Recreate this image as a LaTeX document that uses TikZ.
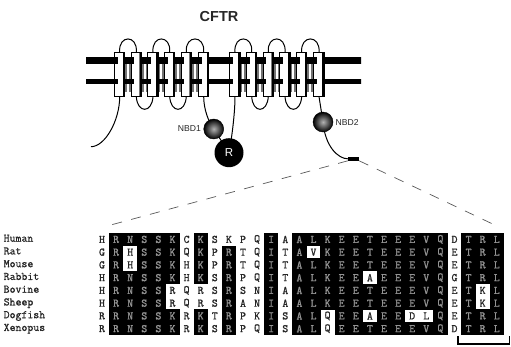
\documentclass[tikz,border=0pt]{standalone}
\usepackage{fontspec}
\setmainfont{Liberation Sans}
\newfontfamily\seqfont[FakeBold=1.2]{Latin Modern Mono}
\newfontfamily\namefont[FakeBold=0.8]{Latin Modern Mono}
\pgfdeclareverticalshading{bilayer}{100bp}{
  color(25bp)=(black!70); color(28bp)=(black!85); color(32bp)=(black!90);
  color(40bp)=(black!45); color(47bp)=(white); color(53bp)=(white);
  color(61bp)=(black!55); color(68bp)=(black); color(75bp)=(black)}
\pgfdeclarehorizontalshading{tube}{100bp}{
  color(25bp)=(black!65); color(34bp)=(black!45); color(44bp)=(black!8);
  color(50bp)=(white); color(56bp)=(black!8); color(66bp)=(black!45); color(75bp)=(black!65)}
\tikzset{
  helix/.style={draw=black,line width=1pt,minimum width=10.5pt,minimum height=43.5pt,
    inner sep=0pt,shading=tube},
  strand/.style={line width=1pt,black},
  nbdball/.style={circle,draw=black,line width=0.4pt,minimum size=20pt,inner sep=0pt,
    shading=radial,inner color=black!30,outer color=black},
  rball/.style={circle,fill=black,minimum size=29pt,inner sep=0pt,text=white,font=\fontsize{11.5}{11.5}\selectfont},
  domlabel/.style={inner sep=0pt,font=\fontsize{8.6}{10}\selectfont,text=black!85},
  guide/.style={line width=0.7pt,black!65,dash pattern=on 10pt off 9.5pt},
  resb/.style={fill=black,minimum width=14.4pt,minimum height=13pt,inner sep=0pt,text=black!42,
    font=\seqfont\fontsize{11.5}{11.5}\selectfont},
  resw/.style={minimum width=14.1pt,minimum height=12.75pt,inner sep=0pt,text=black!85,
    font=\seqfont\fontsize{11.5}{11.5}\selectfont},
  species/.style={anchor=west,inner sep=0pt,text=black!85,font=\namefont\fontsize{11.5}{11.5}\selectfont},
}
\begin{document}
\begin{tikzpicture}[x=1pt,y=-1pt]
\useasboundingbox (0,0) rectangle (511,346);

\node[font=\bfseries\fontsize{14.5}{15}\selectfont,text=black!85,inner sep=0pt] (title) at (219,17) {CFTR};

% lipid bilayer
\shade[shading=bilayer] (86,57) rectangle (361,92);
\foreach \xa/\xb in {125/131,142/148,158/164,175/181,192/198,
                     240/246,257/263,274/280,290/296,307/313}{
  \fill[black,opacity=0.55] (\xa,57) rectangle (\xa+1.7,92);
  \fill[black,opacity=0.55] (\xb-1.7,57) rectangle (\xb,92);
}

% transmembrane helices
\foreach \n/\x in {1/119.7,2/136.3,3/153,4/169.7,5/186.3,6/203.7,
                   7/235,8/251.7,9/268.3,10/285,11/301.7,12/319}{
  \node[helix] (h\n) at (\x,74.3) {};
}

% extracellular and cytoplasmic loops
\foreach \a/\b in {1/2,3/4,5/6,7/8,9/10,11/12}{
  \draw[strand] (h\a.north) .. controls +(-1.5,-17.5) and +(1.5,-17.5) .. (h\b.north);
}
\foreach \a/\b in {2/3,4/5,8/9,10/11}{
  \draw[strand] (h\a.south) .. controls +(1,17) and +(-1,17) .. (h\b.south);
}

% cytoplasmic domains
\coordinate (nterm) at (91,146.7);
\node[fill=black,minimum width=11pt,minimum height=3.6pt,inner sep=0pt] (pdz) at (353.5,158.8) {};
\coordinate (nbdonec) at (213.7,129);
\coordinate (rc) at (229,152.7);
\coordinate (nbdtwoc) at (323,122);

\draw[strand] (h1.south) .. controls +(0,24) and +(14,0) .. (nterm);
\draw[strand] (h6.south) .. controls +(0,13) and +(-5,-7) .. (nbdonec);
\draw[strand] (nbdonec) -- (rc);
\draw[strand] (rc) .. controls +(3,-16) and +(0,16) .. (h7.south);
\draw[strand] (h12.south) -- (nbdtwoc);
\draw[strand] (nbdtwoc) .. controls +(2,24) and +(-10,0) .. (pdz.west);

\node[nbdball] (nbd1) at (nbdonec) {};
\node[rball] (r) at (rc) {R};
\node[nbdball] (nbd2) at (nbdtwoc) {};
\node[domlabel,anchor=east] (l1) at (201,128.5) {NBD1};
\node[domlabel,anchor=west] (l2) at (335.5,122) {NBD2};

% guide lines opening onto the alignment
\coordinate (gl) at (107,226);
\coordinate (gr) at (499,227);
\draw[guide] (pdz.south west) -- (gl);
\draw[guide] (pdz.south east) -- (gr);

% sequence alignment: b = shaded residue, w = unshaded residue
\def\rowH{w/H,b/R,b/N,b/S,b/S,b/K,w/C,b/K,w/S,w/K,w/P,w/Q,b/I,w/A,b/A,b/L,b/K,b/E,b/E,b/T,b/E,b/E,b/E,b/V,b/Q,w/D,b/T,b/R,b/L}
\def\rowR{w/G,b/R,w/H,b/S,b/S,b/K,w/Q,b/K,w/P,b/R,w/T,w/Q,b/I,w/T,b/A,w/V,b/K,b/E,b/E,b/T,b/E,b/E,b/E,b/V,b/Q,w/E,b/T,b/R,b/L}
\def\rowM{w/G,b/R,w/H,b/S,b/S,b/K,w/H,b/K,w/P,b/R,w/T,w/Q,b/I,w/T,b/A,b/L,b/K,b/E,b/E,b/T,b/E,b/E,b/E,b/V,b/Q,w/E,b/T,b/R,b/L}
\def\rowA{w/H,b/R,b/N,b/S,b/S,b/K,w/H,b/K,w/S,b/R,w/P,w/Q,b/I,w/T,b/A,b/L,b/K,b/E,b/E,w/A,b/E,b/E,b/E,b/V,b/Q,w/G,b/T,b/R,b/L}
\def\rowB{w/H,b/R,b/N,b/S,b/S,w/R,w/Q,w/R,w/S,b/R,w/S,w/N,b/I,w/A,b/A,b/L,b/K,b/E,b/E,b/T,b/E,b/E,b/E,b/V,b/Q,w/E,b/T,w/K,b/L}
\def\rowS{w/H,b/R,b/N,b/S,b/S,w/R,w/Q,w/R,w/S,b/R,w/A,w/N,b/I,w/A,b/A,b/L,b/K,b/E,b/E,b/T,b/E,b/E,b/E,b/V,b/Q,w/E,b/T,w/K,b/L}
\def\rowD{w/R,b/R,b/N,b/S,b/S,b/K,w/R,b/K,w/T,b/R,w/P,w/K,b/I,w/S,b/A,b/L,w/Q,b/E,b/E,w/A,b/E,b/E,w/D,w/L,b/Q,w/E,b/T,b/R,b/L}
\def\rowX{w/R,b/R,b/N,b/S,b/S,b/K,w/R,b/K,w/S,b/R,w/P,w/Q,b/I,w/S,b/A,b/L,w/Q,b/E,b/E,b/T,b/E,b/E,b/E,b/V,b/Q,w/D,b/T,b/R,b/L}

\foreach \name/\seq [count=\j from 0] in {Human/\rowH,Rat/\rowR,Mouse/\rowM,Rabbit/\rowA,
                                          Bovine/\rowB,Sheep/\rowS,Dogfish/\rowD,Xenopus/\rowX}{
  \pgfmathsetmacro\yy{239.4+12.75*\j}
  \node[species] (sp\j) at (3.5,\yy) {\strut\name};
  \edef\cells{\seq}
  \foreach \k/\c [count=\i from 0] in \cells {
    \pgfmathsetmacro\xx{102+14.1*\i}
    \node[res\k] (c\j-\i) at (\xx,\yy) {\c};
  }
}

% bracket under the C-terminal motif
\coordinate (ba) at (458,336);
\coordinate (bb) at (509.5,336);
\draw[line width=1.9pt,black] (ba) -- (458,344) -- (509.5,344) -- (bb);
\end{tikzpicture}
\end{document}
